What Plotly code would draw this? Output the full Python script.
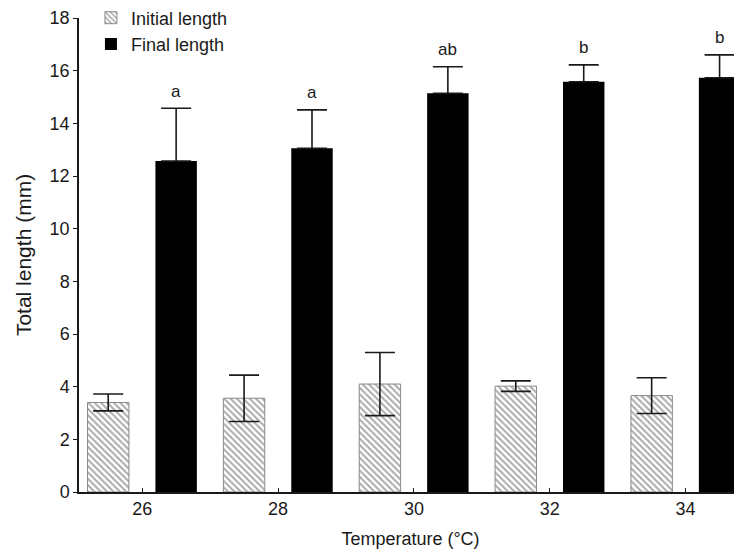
import plotly.graph_objects as go

temps = [26, 28, 30, 32, 34]
initial_len = [3.40, 3.56, 4.10, 4.02, 3.66]
initial_err = [0.32, 0.88, 1.20, 0.20, 0.68]
final_len = [12.57, 13.05, 15.14, 15.58, 15.73]
final_err = [2.00, 1.46, 1.01, 0.64, 0.87]
letters = ["a", "a", "ab", "b", "b"]

font_family = "Liberation Sans, Arial, sans-serif"
txt = "#1a1a1a"

fig = go.Figure()
fig.add_trace(go.Bar(
    x=temps, y=initial_len, name="Initial length",
    marker=dict(color="white", line=dict(color="#8a8a8a", width=1),
                pattern=dict(shape="\\", fgcolor="#555555", bgcolor="white",
                             size=4.5, solidity=0.45)),
    error_y=dict(type="data", array=initial_err, symmetric=True,
                 color="#1a1a1a", thickness=1.6, width=15),
))
fig.add_trace(go.Bar(
    x=temps, y=final_len, name="Final length",
    marker=dict(color="black", line=dict(color="black", width=0)),
    error_y=dict(type="data", array=final_err, arrayminus=[0] * len(final_err),
                 symmetric=False, color="#1a1a1a", thickness=1.6, width=15),
))

for t, v, e, l in zip(temps, final_len, final_err, letters):
    fig.add_annotation(x=t + 0.5, y=v + e, text=l, showarrow=False,
                       yshift=17, font=dict(size=17, color=txt, family=font_family))

fig.update_layout(
    width=742, height=558,
    margin=dict(l=71, r=8, t=10, b=74, autoexpand=False),
    paper_bgcolor="white", plot_bgcolor="white",
    barmode="group", bargap=0.0, bargroupgap=0.39,
    font=dict(family=font_family, size=17, color=txt),
    showlegend=True,
    legend=dict(x=0.018, y=1.039, xanchor="left", yanchor="top",
                bgcolor="rgba(0,0,0,0)", font=dict(size=18, color=txt),
                tracegroupgap=0, itemwidth=30),
    xaxis=dict(range=[25.07, 34.83], tickvals=temps, ticktext=[str(t) for t in temps],
               tickfont=dict(size=18),
               showline=True, linecolor="#1a1a1a", linewidth=1.5,
               ticks="inside", ticklen=4, tickcolor="#1a1a1a", showgrid=False,
               zeroline=False, automargin=False,
               title=dict(text="Temperature (°C)", font=dict(size=18), standoff=14)),
    yaxis=dict(range=[0, 18], tickvals=list(range(0, 19, 2)),
               tickfont=dict(size=18),
               showline=True, linecolor="#1a1a1a", linewidth=1.5,
               ticks="outside", ticklen=4, tickcolor="#1a1a1a", showgrid=False,
               zeroline=False, automargin=False,
               title=dict(text="Total length (mm)", font=dict(size=21), standoff=12)),
)

fig.write_html("out.html")
